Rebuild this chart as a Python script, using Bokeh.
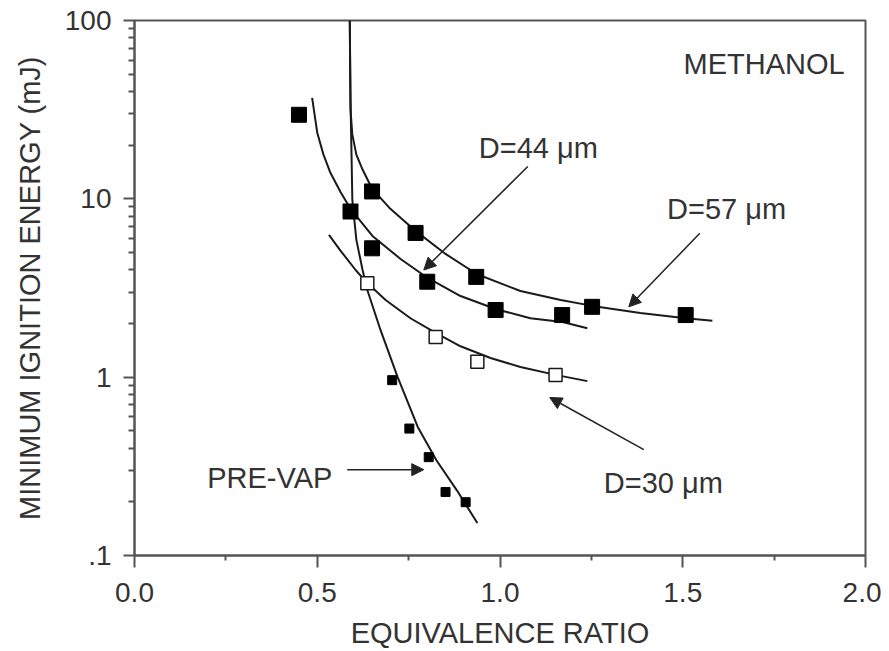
from bokeh.plotting import figure
from bokeh.models import (Range1d, FixedTicker, Label, Arrow, NormalHead)
from bokeh.embed import file_html
from bokeh.resources import INLINE

# ---- data ----
# measured points
phi_57 = [0.650, 0.769, 0.935, 1.252, 1.508]
mie_57 = [11.0, 6.44, 3.65, 2.48, 2.23]
phi_44 = [0.450, 0.591, 0.650, 0.801, 0.988, 1.170]
mie_44 = [29.6, 8.49, 5.28, 3.43, 2.38, 2.23]
phi_30 = [0.637, 0.824, 0.938, 1.152]
mie_30 = [3.36, 1.68, 1.22, 1.03]
phi_pv = [0.705, 0.752, 0.805, 0.851, 0.906]
mie_pv = [0.962, 0.515, 0.356, 0.227, 0.199]

# fitted curves (traced)
cphi_57 = [0.589, 0.590, 0.591, 0.596, 0.607, 0.624, 0.650, 0.700, 0.769, 0.851,
           0.936, 1.056, 1.166, 1.253, 1.384, 1.508, 1.581]
cmie_57 = [100, 53.1, 31.6, 22.9, 17.7, 14.6, 11.4, 8.79, 6.61, 4.91,
           3.79, 3.04, 2.71, 2.51, 2.29, 2.14, 2.07]
cphi_44 = [0.486, 0.500, 0.517, 0.536, 0.564, 0.591, 0.651, 0.728, 0.802, 0.892,
           0.988, 1.083, 1.171, 1.239]
cmie_44 = [36.8, 23.5, 17.7, 14.0, 10.9, 8.79, 6.19, 4.60, 3.60, 2.85,
           2.41, 2.14, 2.04, 1.88]
cphi_30 = [0.532, 0.564, 0.605, 0.637, 0.687, 0.755, 0.824, 0.892, 0.974, 1.056,
           1.152, 1.239]
cmie_30 = [6.28, 5.11, 3.99, 3.37, 2.71, 2.14, 1.77, 1.49, 1.28, 1.14,
           1.03, 0.950]
cphi_pv = [0.589, 0.591, 0.594, 0.596, 0.607, 0.624, 0.637, 0.673, 0.720, 0.775,
           0.826, 0.882, 0.938]
cmie_pv = [100, 36.0, 16.6, 9.87, 5.89, 3.99, 3.08, 1.84, 1.00, 0.526,
           0.342, 0.232, 0.152]

x_ticks = [0.0, 0.5, 1.0, 1.5, 2.0]
x_tick_labels = ["0.0", "0.5", "1.0", "1.5", "2.0"]
x_minor = [0.25, 0.75, 1.25, 1.75]
y_ticks = [0.1, 1, 10, 100]
y_tick_labels = [".1", "1", "10", "100"]
y_minor = [0.2, 0.3, 0.4, 0.5, 0.6, 0.7, 0.8, 0.9,
           2, 3, 4, 5, 6, 7, 8, 9,
           20, 30, 40, 50, 60, 70, 80, 90]

FONT = "Liberation Sans"
TXT = "#333333"
AX = "#555555"
LN = "#1a1a1a"

p = figure(width=881, height=651, output_backend="svg", toolbar_location=None,
           x_range=Range1d(0, 2), y_range=Range1d(0.1, 100), y_axis_type="log",
           min_border_left=134, min_border_right=16, min_border_top=20,
           min_border_bottom=96)
p.xgrid.visible = False
p.ygrid.visible = False
p.outline_line_color = AX
p.outline_line_width = 2
p.background_fill_color = "white"
p.border_fill_color = "white"

# axes
p.xaxis.ticker = FixedTicker(ticks=x_ticks, minor_ticks=x_minor)
p.xaxis.major_label_overrides = {t: l for t, l in zip(x_ticks, x_tick_labels)}
p.yaxis.ticker = FixedTicker(ticks=y_ticks, minor_ticks=y_minor)
p.yaxis.major_label_overrides = {t: l for t, l in zip(y_ticks, y_tick_labels)}
p.xaxis.axis_label = "EQUIVALENCE RATIO"
p.yaxis.axis_label = "MINIMUM IGNITION ENERGY (mJ)"
for ax in (p.xaxis, p.yaxis):
    ax.axis_line_color = AX
    ax.axis_line_width = 2
    ax.major_tick_line_color = AX
    ax.major_tick_line_width = 2
    ax.minor_tick_line_color = AX
    ax.minor_tick_line_width = 2
    ax.major_tick_in = 0
    ax.minor_tick_in = 0
    ax.major_label_text_font = FONT
    ax.major_label_text_font_size = "28px"
    ax.major_label_text_color = TXT
    ax.axis_label_text_font = FONT
    ax.axis_label_text_font_size = "29px"
    ax.axis_label_text_font_style = "normal"
    ax.axis_label_text_color = TXT
p.xaxis.major_tick_out = 12
p.xaxis.minor_tick_out = 5
p.xaxis.major_label_standoff = 15
p.xaxis.axis_label_standoff = 12
p.yaxis.major_tick_out = 11
p.yaxis.minor_tick_out = 6
p.yaxis.major_label_standoff = 12
p.yaxis.axis_label_standoff = 16
p.yaxis.major_label_orientation = "horizontal"

# curves
for cx, cy in ((cphi_57, cmie_57), (cphi_44, cmie_44), (cphi_30, cmie_30), (cphi_pv, cmie_pv)):
    p.line(cx, cy, line_color=LN, line_width=2)

# markers
p.scatter(phi_57, mie_57, marker="square", size=15, fill_color="black", line_color="black")
p.scatter(phi_44, mie_44, marker="square", size=15, fill_color="black", line_color="black")
p.scatter(phi_30, mie_30, marker="square", size=13, fill_color="white", line_color=LN, line_width=1.5)
p.scatter(phi_pv, mie_pv, marker="square", size=9, fill_color="black", line_color="black")

# annotations
def lab(x, y, t):
    p.add_layout(Label(x=x, y=y, text=t, text_font=FONT, text_font_size="29px",
                       text_color=TXT, text_baseline="alphabetic", text_align="left"))

lab(1.502, 57.3, "METHANOL")
lab(0.942, 19.3, "D=44 \u03bcm")
lab(1.457, 8.79, "D=57 \u03bcm")
lab(1.284, 0.2538, "D=30 \u03bcm")
lab(0.199, 0.2708, "PRE-VAP")

def arr(x0, y0, x1, y1):
    p.add_layout(Arrow(x_start=x0, y_start=y0, x_end=x1, y_end=y1,
                       line_color="#222222", line_width=1.5,
                       end=NormalHead(size=12, fill_color="#222222", line_color="#222222")))

arr(1.076, 15.19, 0.7915, 3.99)
arr(1.5467, 6.41, 1.3524, 2.48)
arr(1.3934, 0.3926, 1.1362, 0.769)
arr(0.582, 0.303, 0.7915, 0.303)

open("out.html", "w").write(file_html(p, INLINE))
